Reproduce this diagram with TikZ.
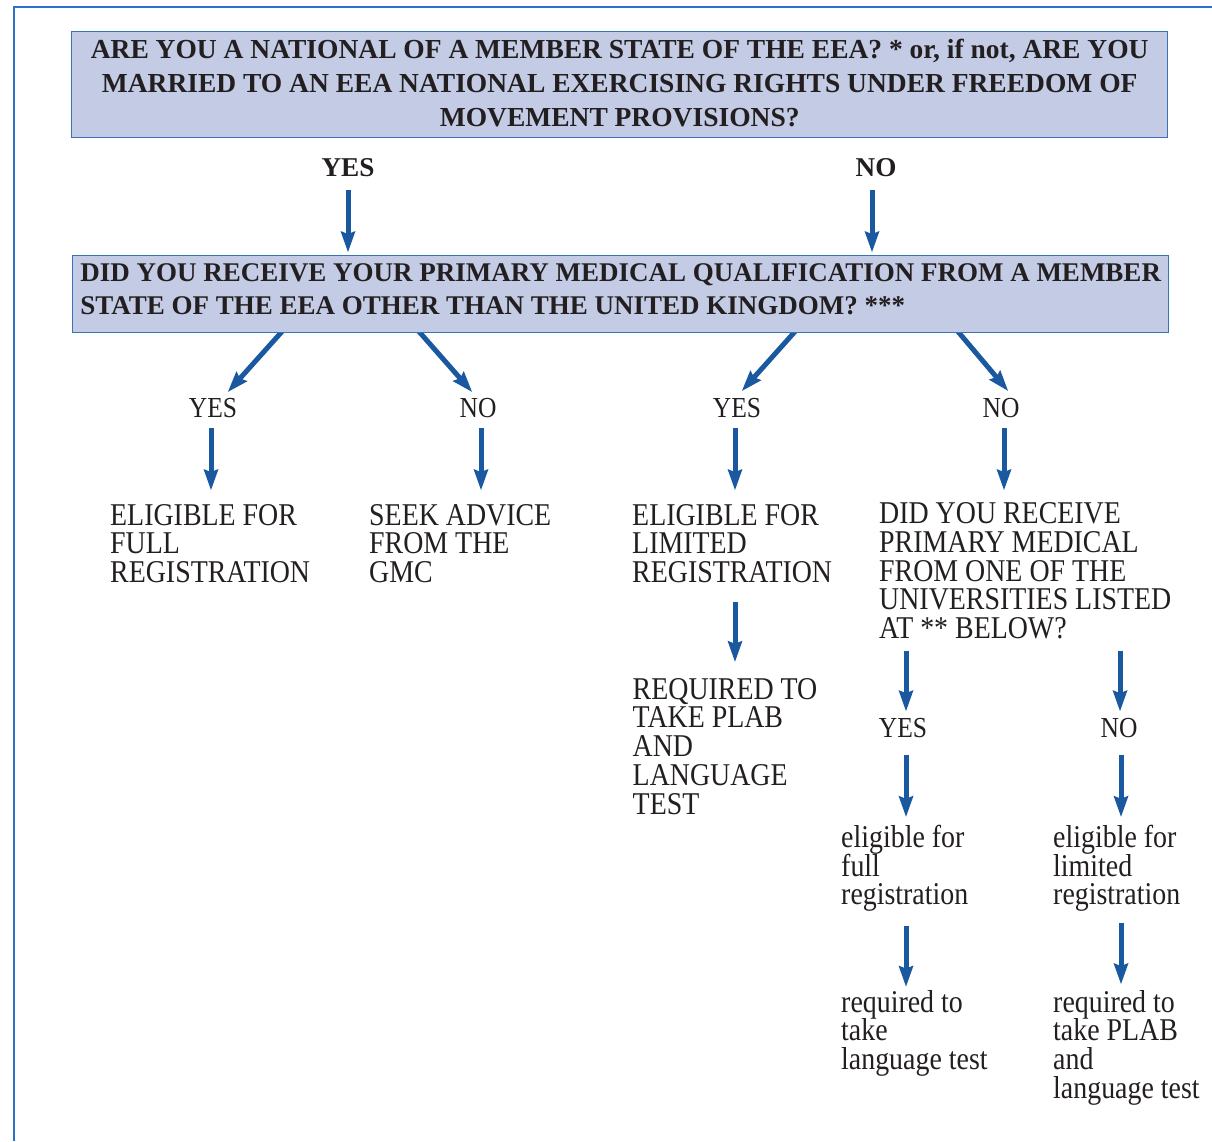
\documentclass[tikz,border=0pt]{standalone}
\usepackage{fontspec}
\setmainfont{Liberation Serif}
\newfontfamily\freg{Liberation Serif}[FakeStretch=0.88]
\usetikzlibrary{arrows.meta,calc}
\definecolor{boxfill}{HTML}{C3CBE5}
\definecolor{boxline}{HTML}{3A73B5}
\definecolor{arrowblue}{HTML}{1A58A0}
\definecolor{framec}{HTML}{2D73C5}
\definecolor{ink}{HTML}{231F20}
\pgfdeclarelayer{bg}
\pgfsetlayers{bg,main}
\begin{document}
\lineskiplimit=-100pt\relax
\begin{tikzpicture}[x=1pt,y=-1pt,
  qbox/.style={draw=boxline, line width=1.4pt, fill=boxfill, inner sep=0pt, minimum width=1096pt, anchor=north west, text=ink},
  toplab/.style={inner sep=0pt, anchor=base, text=ink, font=\bfseries\fontsize{27.2}{34}\selectfont},
  lab/.style={inner sep=0pt, anchor=base, text=ink, font=\freg\fontsize{29}{29}\selectfont},
  txt/.style={inner sep=0pt, anchor=north west, align=left, text=ink, font=\freg\fontsize{31.7}{28.7}\selectfont},
  arr/.style={draw=arrowblue, line width=5pt, -{Stealth[length=21pt,width=15pt,inset=3pt,line width=0pt]}},
]
\useasboundingbox (0,0) rectangle (1212,1141);
\draw[draw=framec, line width=1.8pt] (1212,6.8) -- (14,6.8) -- (14,1141);

\node[qbox, minimum height=106pt, align=center, font=\bfseries\fontsize{27.5}{34}\selectfont] (q1) at (71,31)
  {ARE YOU A NATIONAL OF A MEMBER STATE OF THE EEA? * or, if not, ARE YOU\\
   MARRIED TO AN EEA NATIONAL EXERCISING RIGHTS UNDER FREEDOM OF\\
   MOVEMENT PROVISIONS?\rule[-4.6pt]{0pt}{4.6pt}};

\node[toplab] (yesT) at (348,176.7) {YES};
\node[toplab] (noT) at (876,176.7) {NO};

\node[qbox, minimum height=77pt, align=left, font=\bfseries\fontsize{27.0}{32.5}\selectfont] (q2) at (72,255)
  {DID YOU RECEIVE YOUR PRIMARY MEDICAL QUALIFICATION FROM A MEMBER\\
   STATE OF THE EEA OTHER THAN THE UNITED KINGDOM? ***\rule[-10.6pt]{0pt}{10.6pt}};

\node[lab] (yA) at (213,417) {YES};
\node[lab] (nA) at (478,417) {NO};
\node[lab] (yB) at (737,417) {YES};
\node[lab] (nB) at (1001,417) {NO};

\node[txt] (eFull) at (110,504) {ELIGIBLE FOR\\FULL\\REGISTRATION};
\node[txt] (seek) at (369,504) {SEEK ADVICE\\FROM THE\\GMC};
\node[txt] (eLim) at (632,504) {ELIGIBLE FOR\\LIMITED\\REGISTRATION};
\node[txt] (didU) at (879,502.5) {DID YOU RECEIVE\\PRIMARY MEDICAL\\FROM ONE OF THE\\UNIVERSITIES LISTED\\AT ** BELOW?};
\node[txt] (reqPL) at (632.5,678) {REQUIRED TO\\TAKE PLAB\\AND\\LANGUAGE\\TEST};

\node[lab] (yC) at (903,737.5) {YES};
\node[lab] (nC) at (1119,737.5) {NO};

\node[txt] (elF) at (841,825) {eligible for\\full\\registration};
\node[txt] (elL) at (1053,825) {eligible for\\limited\\registration};
\node[txt] (rqL) at (841,990) {required to\\take\\language test};
\node[txt] (rqP) at (1053,990) {required to\\take PLAB\\and\\language test};

\begin{pgfonlayer}{bg}
\draw[arr, shorten <=13pt, shorten >=3pt] (yesT.south) -- (yesT.south |- q2.north);
\draw[arr, shorten <=13pt, shorten >=3pt] ([xshift=-4pt]noT.south) -- ([xshift=-4pt]noT.south |- q2.north);

\draw[arr] ([xshift=211pt,yshift=3pt]q2.south west) -- ([xshift=15pt,yshift=5.8pt]yA.north);
\draw[arr] ([xshift=346pt,yshift=3pt]q2.south west) -- ([xshift=-6pt,yshift=5.8pt]nA.north);
\draw[arr] ([xshift=724pt,yshift=3pt]q2.south west) -- ([xshift=5pt,yshift=6.8pt]yB.north);
\draw[arr] ([xshift=885pt,yshift=3pt]q2.south west) -- ([xshift=7pt,yshift=6.8pt]nB.north);

\draw[arr, shorten <=11pt, shorten >=14pt] ([xshift=-2pt]yA.south) -- ([xshift=-2pt]yA.south |- eFull.north);
\draw[arr, shorten <=11pt, shorten >=14pt] ([xshift=3pt]nA.south) -- ([xshift=3pt]nA.south |- seek.north);
\draw[arr, shorten <=11pt, shorten >=14pt] ([xshift=-2pt]yB.south) -- ([xshift=-2pt]yB.south |- eLim.north);
\draw[arr, shorten <=11pt, shorten >=12.5pt] ([xshift=3pt]nB.south) -- ([xshift=3pt]nB.south |- didU.north);

\draw[arr, shorten <=18.6pt, shorten >=16.3pt] ([xshift=103pt]eLim.south west) -- ([xshift=103pt]eLim.south west |- reqPL.north);

\draw[arr, shorten <=11.7pt, shorten >=7pt] ([xshift=3pt]yC.north |- didU.south) -- ([xshift=3pt]yC.north);
\draw[arr, shorten <=11.7pt, shorten >=7pt] ([xshift=1pt]nC.north |- didU.south) -- ([xshift=1pt]nC.north);

\draw[arr, shorten <=17pt, shorten >=8.3pt] ([xshift=3pt]yC.south) -- ([xshift=3pt]yC.south |- elF.north);
\draw[arr, shorten <=17pt, shorten >=8.3pt] ([xshift=2pt]nC.south) -- ([xshift=2pt]nC.south |- elL.north);

\draw[arr, shorten <=14pt, shorten >=3.5pt] ([xshift=3pt]yC.south |- elF.south) -- ([xshift=3pt]yC.south |- rqL.north);
\draw[arr, shorten <=11pt, shorten >=6pt] ([xshift=2pt]nC.south |- elL.south) -- ([xshift=2pt]nC.south |- rqP.north);
\end{pgfonlayer}
\end{tikzpicture}
\end{document}
